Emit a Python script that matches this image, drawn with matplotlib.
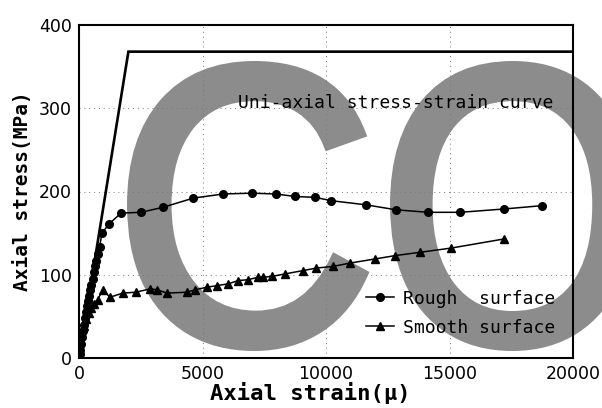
import matplotlib.pyplot as plt
from matplotlib.textpath import TextPath
from matplotlib.patches import PathPatch
from matplotlib.font_manager import FontProperties
from matplotlib.transforms import Affine2D, IdentityTransform

# uni-axial (bilinear) curve
uni_strain = [0, 2000, 20000]
uni_stress = [0, 368, 368]

rough_strain = [0, 30, 60, 100, 140, 180, 220, 260, 300, 340, 380, 420, 460, 500,
                550, 600, 650, 700, 760, 830, 930, 1215, 1700, 2510, 3400, 4620,
                5830, 7000, 7980, 8750, 9560, 10200, 11620, 12840, 14130, 15430,
                17210, 18750]
rough_stress = [0, 5, 10, 17, 25, 33, 40, 48, 55, 62, 68, 75, 82, 88,
                95, 103, 110, 117, 125, 133, 150, 161, 174, 175, 181, 192,
                197, 198, 197, 194, 193, 189, 184, 178, 175, 175,
                179, 183]

smooth_strain = [0, 20, 50, 100, 200, 300, 400, 500, 600, 750, 970, 1250, 1780,
                 2300, 2870, 3160, 3560, 4370, 4700, 5180, 5590, 6030, 6440, 6840,
                 7250, 7450, 7810, 8340, 9070, 9600, 10280, 10970, 11990, 12800,
                 13810, 15060, 17210]
smooth_stress = [0, 10, 20, 28, 38, 47, 54, 60, 65, 70, 82, 73, 78,
                 79, 83, 82, 78, 79, 82, 85, 87, 89, 93, 94,
                 97, 97, 98, 101, 105, 108, 110, 114, 119, 123,
                 127, 132, 143]

xticks = [0, 5000, 10000, 15000, 20000]
yticks = [0, 100, 200, 300, 400]

mono = 'DejaVu Sans Mono'
W, H = 602, 408

fig = plt.figure(figsize=(6.02, 4.08), dpi=100)
ax = fig.add_axes([79/W, 1-358/H, 494/W, 333/H])
ax.patch.set_alpha(0)


def watermark(ch, x0, x1, top, bottom, edge=10):
    # glyph outline fitted into a pixel box (pixels from top-left), thickened by an edge stroke
    p = TextPath((0, 0), ch, size=100, prop=FontProperties(family='Liberation Sans'))
    ext = p.get_extents()
    h = edge / 2
    sx = (x1 - x0 - edge) / ext.width
    sy = (bottom - top - edge) / ext.height
    tr = Affine2D().translate(-ext.x0, -ext.y0).scale(sx, sy).translate(x0 + h, H - bottom + h)
    fig.add_artist(PathPatch(tr.transform_path(p), transform=IdentityTransform(),
                             fc='#8c8c8c', ec='#8c8c8c', lw=edge * 0.72,
                             joinstyle='miter', zorder=-5))


watermark('C', 127, 368, 61, 351)
watermark('O', 390, 635, 61, 351)

ax.plot(uni_strain, uni_stress, color='black', lw=1.9, solid_joinstyle='miter')
ax.plot(rough_strain, rough_stress, color='black', lw=1.1, marker='o', ms=5.5,
        label='Rough  surface')
ax.plot(smooth_strain, smooth_stress, color='black', lw=1.1, marker='^', ms=5.5,
        label='Smooth surface')

ax.text(6440, 306, 'Uni-axial stress-strain curve', family=mono, fontsize=13, va='center')

ax.set_xlim(0, 20000)
ax.set_ylim(0, 400)
ax.set_xticks(xticks)
ax.set_yticks(yticks)
ax.set_xticklabels([str(v) for v in xticks], fontsize=12.5)
ax.set_yticklabels([str(v) for v in yticks], fontsize=12.5)
ax.tick_params(length=0, pad=5)
ax.grid(True, ls=(0, (1, 4)), color='#777777', lw=0.7)

for s in ax.spines.values():
    s.set_linewidth(1.5)

ax.set_xlabel('Axial strain(\u03bc)', family=mono, fontsize=16, weight='bold')
ax.xaxis.set_label_coords((310 - 79) / 494, -0.072)
ax.set_ylabel('Axial stress(MPa)', family=mono, fontsize=14, weight='bold', labelpad=5)

ax.legend(loc='upper left', bbox_to_anchor=(0.58, 0.205), frameon=False,
          prop={'family': mono, 'size': 13}, handlelength=1.6,
          handletextpad=0.5, labelspacing=0.6, borderpad=0, borderaxespad=0)

fig.savefig('out.png', dpi=100)
